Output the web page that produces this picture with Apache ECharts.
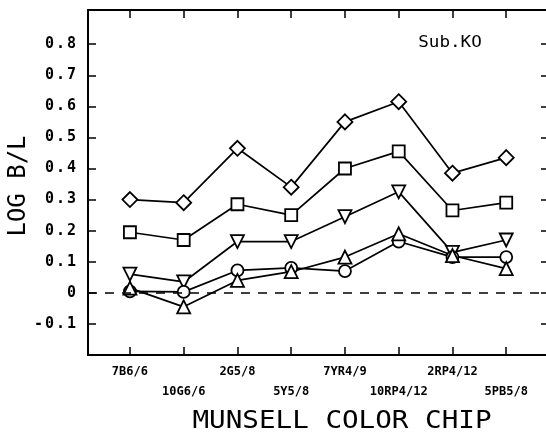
<!DOCTYPE html>
<html lang="en">
<head>
    <meta charset="UTF-8">
    <title>LOG B/L - Sub.KO</title>
    <style>
        html, body { margin: 0; padding: 0; background: #fff; }
        #chart { width: 546px; height: 434px; }
    </style>
</head>
<body>
    <div id="chart"></div>
    <script src="https://cdn.jsdelivr.net/npm/echarts@6/dist/echarts.min.js"></script>
    <script type="text/javascript">
        // munsell chips along x
        var chips = ['7B6/6', '10G6/6', '2G5/8', '5Y5/8', '7YR4/9', '10RP4/12', '2RP4/12', '5PB5/8']
        var yTicks = [-0.1, 0, 0.1, 0.2, 0.3, 0.4, 0.5, 0.6, 0.7, 0.8]

        // one line per marker shape
        var diamondVals = [0.30, 0.29, 0.465, 0.34, 0.55, 0.615, 0.385, 0.435]
        var squareVals = [0.195, 0.17, 0.285, 0.25, 0.40, 0.455, 0.265, 0.29]
        var triDownVals = [0.06, 0.035, 0.165, 0.165, 0.245, 0.325, 0.13, 0.17]
        var circleVals = [0.005, 0.003, 0.072, 0.08, 0.07, 0.165, 0.115, 0.115]
        var triUpVals = [0.015, -0.045, 0.04, 0.068, 0.115, 0.19, 0.12, 0.078]

        var xIdx = chips.map((c, i) => i)
        var mono = 'DejaVu Sans Mono'

        // wide plotter-like spacing for the y tick labels
        function spaced(s) {
            return s.split('').map(ch => '{c|' + ch + '}').join('')
        }

        function makeSeries(vals, symbol, size, rotate) {
            return {
                type: 'line',
                data: vals.map((v, i) => [i, v]),
                symbol: symbol,
                symbolSize: size,
                symbolRotate: rotate || 0,
                showSymbol: true,
                lineStyle: { color: '#000', width: 1.7 },
                itemStyle: { color: '#fff', borderColor: '#000', borderWidth: 1.8 },
                emphasis: { disabled: true },
                animation: false
            }
        }

        var chart = echarts.init(document.getElementById('chart'))

        var tickStyle = { inside: true, length: 8, lineStyle: { color: '#000', width: 1.5 } }
        var axisLn = { show: true, onZero: false, lineStyle: { color: '#000', width: 2 } }

        var series = [
            makeSeries(diamondVals, 'diamond', 15),
            makeSeries(squareVals, 'rect', 12),
            makeSeries(triDownVals, 'triangle', 13, 180),
            makeSeries(circleVals, 'circle', 12),
            makeSeries(triUpVals, 'triangle', 13)
        ]
        // dashed zero line
        series[0].markLine = {
            silent: true,
            symbol: 'none',
            label: { show: false },
            lineStyle: { color: '#000', type: [9, 8], width: 1.6 },
            data: [{ yAxis: 0 }]
        }

        var option = {
            backgroundColor: '#fff',
            animation: false,
            grid: { left: 88, right: -1, top: 10, bottom: 79 },
            xAxis: [{
                type: 'value',
                min: -0.78,
                max: 7.74,
                axisLine: axisLn,
                splitLine: { show: false },
                axisTick: Object.assign({ customValues: xIdx }, tickStyle),
                axisLabel: {
                    customValues: xIdx,
                    margin: 7,
                    lineHeight: 20,
                    color: '#000',
                    fontFamily: mono,
                    fontWeight: 'bold',
                    fontSize: 12,
                    formatter: v => {
                        var i = Math.round(v)
                        return (i % 2 ? '\n' : '') + chips[i]
                    }
                }
            }, {
                type: 'value',
                position: 'top',
                min: -0.78,
                max: 7.74,
                axisLine: axisLn,
                splitLine: { show: false },
                axisTick: Object.assign({ customValues: xIdx }, tickStyle),
                axisLabel: { show: false }
            }],
            yAxis: [{
                type: 'value',
                min: -0.2,
                max: 0.91,
                axisLine: axisLn,
                splitLine: { show: false },
                axisTick: Object.assign({ customValues: yTicks }, tickStyle),
                axisLabel: {
                    customValues: yTicks,
                    margin: 11,
                    fontSize: 15,
                    fontWeight: 'bold',
                    fontFamily: mono,
                    color: '#000',
                    formatter: v => spaced(Math.abs(v) < 1e-9 ? '0' : v.toFixed(1)),
                    rich: {
                        c: {
                            width: 11,
                            align: 'center',
                            color: '#000',
                            fontFamily: mono,
                            fontWeight: 'bold',
                            fontSize: 15
                        }
                    }
                }
            }, {
                type: 'value',
                position: 'right',
                min: -0.2,
                max: 0.91,
                axisLine: { show: false, onZero: false },
                splitLine: { show: false },
                axisTick: { show: true, customValues: yTicks, inside: true, length: 5, lineStyle: { color: '#000', width: 1.5 } },
                axisLabel: { show: false }
            }],
            graphic: [{
                type: 'text',
                x: 19,
                y: 186,
                rotation: Math.PI / 2,
                style: {
                    text: 'LOG B/L',
                    fill: '#000',
                    font: '24px "DejaVu Sans Mono"',
                    textAlign: 'center',
                    textVerticalAlign: 'middle'
                }
            }, {
                type: 'text',
                x: 342,
                y: 422,
                scaleX: 1.15,
                style: {
                    text: 'MUNSELL COLOR CHIP',
                    fill: '#000',
                    font: '24px "DejaVu Sans Mono"',
                    textAlign: 'center',
                    textVerticalAlign: 'middle'
                }
            }, {
                type: 'text',
                x: 450,
                y: 43,
                scaleX: 1.1,
                style: {
                    text: 'Sub.KO',
                    fill: '#000',
                    font: '16px "DejaVu Sans Mono"',
                    textAlign: 'center',
                    textVerticalAlign: 'middle'
                }
            }],
            series: series
        }

        chart.setOption(option)
    </script>
</body>
</html>
